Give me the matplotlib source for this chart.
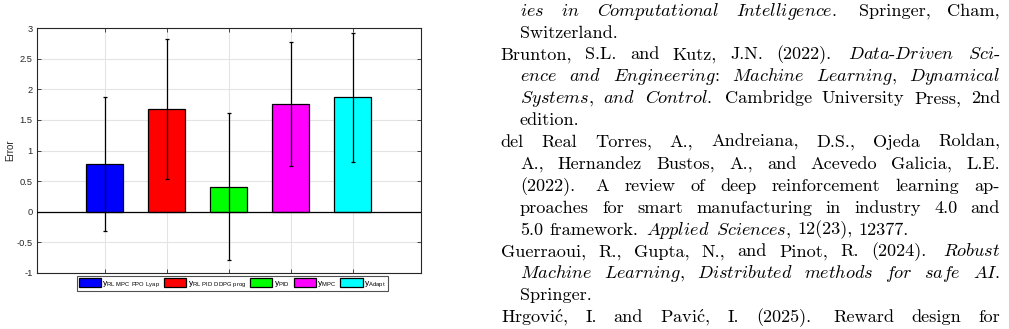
import matplotlib
matplotlib.use('Agg')
import matplotlib.pyplot as plt
from matplotlib.patches import Patch

# bar chart data
controllers = ['RL MPC PPO Lyap', 'RL PID DDPG prog', 'PID', 'MPC', 'Adapt']
mean_error = [0.78, 1.68, 0.41, 1.76, 1.87]
std_error = [1.09, 1.14, 1.20, 1.01, 1.05]
bar_colors = ['#0000ff', '#ff0000', '#00ff00', '#ff00ff', '#00ffff']
y_ticks = [-1, -0.5, 0, 0.5, 1, 1.5, 2, 2.5, 3]
y_tick_labels = ['-1', '-0.5', '0', '0.5', '1', '1.5', '2', '2.5', '3']

# bibliography column next to the figure: (text, hanging indent, justified)
# *...* marks italic
ref_lines = [
    ("*ies in Computational Intelligence*. Springer, Cham,", True, True),
    ("Switzerland.", True, False),
    ("Brunton, S.L. and Kutz, J.N. (2022). *Data-Driven Sci-*", False, True),
    ("*ence and Engineering: Machine Learning, Dynamical*", True, True),
    ("*Systems, and Control*. Cambridge University Press, 2nd", True, True),
    ("edition.", True, False),
    ("del Real Torres, A., Andreiana, D.S., Ojeda Roldan,", False, True),
    ("A., Hernandez Bustos, A., and Acevedo Galicia, L.E.", True, True),
    ("(2022). A review of deep reinforcement learning ap-", True, True),
    ("proaches for smart manufacturing in industry 4.0 and", True, True),
    ("5.0 framework. *Applied Sciences*, 12(23), 12377.", True, False),
    ("Guerraoui, R., Gupta, N., and Pinot, R. (2024). *Robust*", False, True),
    ("*Machine Learning, Distributed methods for safe AI*.", True, True),
    ("Springer.", True, False),
    ("Hrgović, I. and Pavić, I. (2025). Reward design for", False, True),
]

W, H = 1009, 329
plt.rcParams['font.family'] = ['Liberation Sans', 'DejaVu Sans']
plt.rcParams['axes.unicode_minus'] = False
plt.rcParams['mathtext.fontset'] = 'custom'
plt.rcParams['mathtext.rm'] = 'Liberation Sans'

fig = plt.figure(figsize=(W / 100, H / 100), dpi=100)
gray = '#262626'

# ---- chart ----
ax = fig.add_axes([36.7 / W, 1 - 272.8 / H, 384 / W, (272.8 - 28.3) / H])
x = list(range(1, len(mean_error) + 1))
ax.bar(x, mean_error, width=0.6, color=bar_colors, edgecolor='black',
       linewidth=0.9, zorder=2)
ax.errorbar(x, mean_error, yerr=std_error, fmt='none', ecolor='black',
            elinewidth=0.9, capsize=1.6, capthick=0.9, zorder=4)
ax.axhline(0, color='black', lw=0.9, zorder=3)
ax.set_xlim(-0.1, 6.1)
ax.set_ylim(-1, 3)
ax.set_xticks(x)
ax.set_xticklabels([])
ax.set_yticks(y_ticks)
ax.set_yticklabels(y_tick_labels)
ax.tick_params(direction='in', top=True, right=True, length=3, width=0.6,
               colors=gray, labelsize=6.7, pad=3)
ax.grid(True, color='#e4e4e4', lw=0.8)
ax.set_axisbelow(True)
for sp in ax.spines.values():
    sp.set_color(gray)
    sp.set_linewidth(0.8)
ax.set_ylabel('Error', fontsize=7, color=gray)
ax.yaxis.set_label_coords(-0.057, 0.5)

handles = [Patch(facecolor=c, edgecolor='black', linewidth=0.9) for c in bar_colors]
labels = ['y$_{\\mathregular{%s}}$' % name.replace(' ', '\\ ') for name in controllers]
leg = fig.legend(handles, labels, loc='upper center', bbox_to_anchor=(232.4 / W, 1 - 276 / H),
                 ncol=5, fontsize=6.1, frameon=True, fancybox=False, borderpad=0.2,
                 handlelength=2.6, handleheight=1.35, handletextpad=0.2,
                 columnspacing=0.45, borderaxespad=0)
leg.get_frame().set_edgecolor(gray)
leg.get_frame().set_linewidth(0.8)

# ---- bibliography text, justified like the LaTeX column ----
FS = 13.1
em = FS * 100 / 72
left, right, indent = 500.7, 1000.0, 520.0
first_base, line_step = 15.6, 21.9
renderer = fig.canvas.get_renderer()


def split_words(line):
    words, cur, italic = [], [], False
    for ch in line:
        if ch == '*':
            italic = not italic
        elif ch == ' ':
            if cur:
                words.append(cur)
            cur = []
        else:
            cur.append((ch, italic))
    if cur:
        words.append(cur)
    return words


def to_mpl(word):
    out, run = '', ''
    for ch, it in word:
        if it and ch.isalnum():
            run += ch
            continue
        if run:
            out += r'$\mathit{' + run + '}$'
            run = ''
        if ch == 'ć':
            out += r'$\mathrm{\acute{c}}$'
        else:
            out += ch
    if run:
        out += r'$\mathit{' + run + '}$'
    return out


for i, (line, hang, justify) in enumerate(ref_lines):
    base = first_base + i * line_step
    x0 = indent if hang else left
    words = split_words(line)
    texts, widths = [], []
    for w in words:
        t = fig.text(0, 0, to_mpl(w), fontsize=FS, family='cmr10', math_fontfamily='cm',
                     ha='left', va='baseline', color='black')
        texts.append(t)
        widths.append(t.get_window_extent(renderer).width)
    # natural gaps and stretch weights (sentence end gets a bit more room)
    gaps, stretch = [], []
    for w in words[:-1]:
        chars = ''.join(c for c, _ in w)
        sentence = chars.endswith('.') and len(chars) > 1 and (chars[-2].islower() or chars[-2] == ')')
        gaps.append(em * (0.444 if sentence else 0.333))
        stretch.append(1.3 if sentence else 1.0)
    if justify and gaps:
        diff = (right - x0) - (sum(widths) + sum(gaps))
        if diff > 0:
            gaps = [g + diff * s / sum(stretch) for g, s in zip(gaps, stretch)]
        else:
            gaps = [g + diff / len(gaps) for g in gaps]
    xpos = x0
    for k, t in enumerate(texts):
        t.set_position((xpos / W, 1 - base / H))
        xpos += widths[k] + (gaps[k] if k < len(gaps) else 0)

fig.savefig('out.png', dpi=100)
